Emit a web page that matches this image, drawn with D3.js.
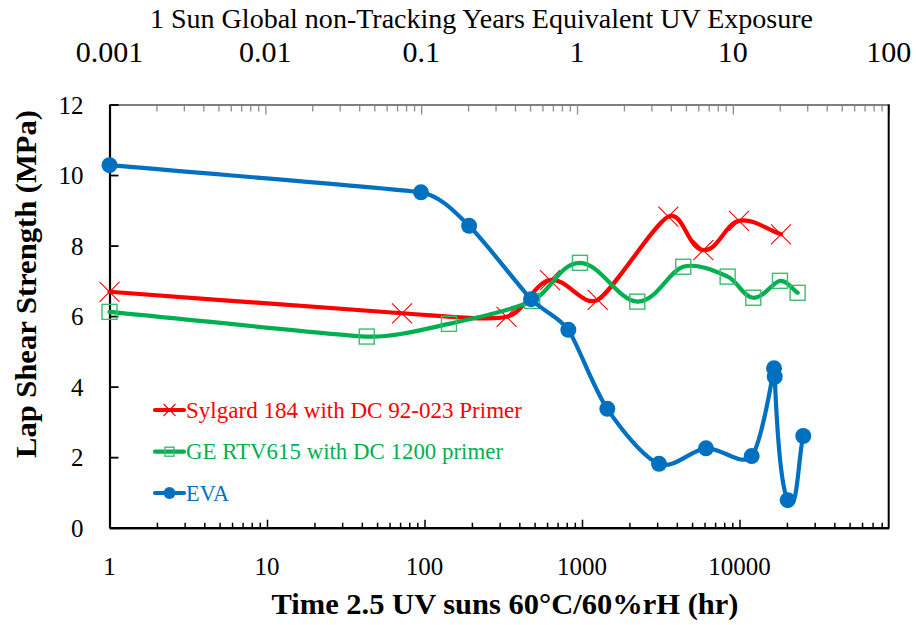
<!DOCTYPE html>
<html><head><meta charset="utf-8">
<script src="https://cdn.jsdelivr.net/npm/d3@7"></script>
<style>body{margin:0;background:#fff}svg{display:block}</style></head>
<body><svg id="c" width="916" height="625"></svg>
<script>
// ---- data ----
const sylgardHours = [1, 72, 332, 626, 1258, 3532, 5890, 9930, 18340];
const sylgardMPa   = [6.69, 6.08, 5.98, 7.02, 6.46, 8.82, 7.87, 8.70, 8.32];
const geHours = [1, 43, 143, 483, 971, 2244, 4395, 8410, 12240, 18070, 23390];
const geMPa   = [6.12, 5.42, 5.78, 6.43, 7.51, 6.41, 7.40, 7.12, 6.52, 7.00, 6.66];
const evaHours = [1, 95, 192, 475, 819, 1448, 3083, 6125, 11950, 16560, 16740, 20230, 25400];
const evaMPa   = [10.28, 9.51, 8.56, 6.48, 5.61, 3.37, 1.81, 2.25, 2.03, 4.52, 4.28, 0.78, 2.60];
const seriesNames = ["Sylgard 184 with DC 92-023 Primer", "GE RTV615 with DC 1200 primer", "EVA"];
const yTicks = [0, 2, 4, 6, 8, 10, 12];
const bottomTickLabels = [1, 10, 100, 1000, 10000];
const topTickLabels = [0.001, 0.01, 0.1, 1, 10, 100];
const bottomTitle = "Time 2.5 UV suns 60°C/60%rH (hr)";
const topTitle = "1 Sun Global non-Tracking Years Equivalent UV Exposure";
const yTitle = "Lap Shear Strength (MPa)";

// ---- layout ----
const L = 109.5, R = 888.7, T = 104.5, B = 527.7;
const FONT = "'Liberation Serif','Times New Roman',serif";
const svg = d3.select("#c");

const x = d3.scaleLog().domain([1, Math.pow(10, (R - L) / 157.5)]).range([L, R]);
const xTop = d3.scaleLog().domain([0.001, 100]).range([L, R]);
const y = d3.scaleLinear().domain([0, 12]).range([B, T]);

function minors(lo, hi) {
  const out = [];
  for (let d = lo; d < hi; d *= 10) for (let k = 2; k <= 9; k++) { const v = d * k; if (v < hi * 0.9999) out.push(v); }
  return out;
}

// top axis (gray)
const topG = svg.append("g").attr("transform", `translate(0,${T})`);
topG.call(d3.axisTop(xTop).tickValues(minors(0.001, 100)).tickSizeInner(-7).tickSizeOuter(0).tickFormat(""));
topG.call(g => g.append("g").call(d3.axisTop(xTop).tickValues(topTickLabels).tickSizeInner(-10).tickSizeOuter(0).tickFormat("")));
topG.selectAll("path").attr("stroke", "#7f7f7f").attr("stroke-width", 2.2);
topG.selectAll("line").attr("stroke", "#8c8c8c").attr("stroke-width", 1.3);

// top tick labels
svg.append("g").selectAll("text").data(topTickLabels).join("text")
  .attr("x", d => xTop(d)).attr("y", 62).attr("text-anchor", "middle")
  .attr("font-family", FONT).attr("font-size", 30).attr("fill", "#000")
  .text(d => d);
svg.append("text").attr("x", 481.5).attr("y", 28).attr("text-anchor", "middle")
  .attr("font-family", FONT).attr("font-size", 28).attr("fill", "#000")
  .attr("textLength", 663).attr("lengthAdjust", "spacingAndGlyphs").text(topTitle);

// right border
svg.append("line").attr("x1", R).attr("x2", R).attr("y1", T).attr("y2", B).attr("stroke", "#000").attr("stroke-width", 2);

// bottom axis
const botG = svg.append("g").attr("transform", `translate(0,${B})`);
botG.call(d3.axisBottom(x).tickValues(minors(1, x.domain()[1])).tickSizeInner(-5).tickSizeOuter(0).tickFormat(""));
botG.call(g => g.append("g").call(d3.axisBottom(x).tickValues(bottomTickLabels).tickSizeInner(-8).tickSizeOuter(0).tickFormat("")));
botG.selectAll("path").attr("stroke", "#000").attr("stroke-width", 2.2);
botG.selectAll("line").attr("stroke", "#000").attr("stroke-width", 1.5);
svg.append("g").selectAll("text").data(bottomTickLabels).join("text")
  .attr("x", d => x(d)).attr("y", 575).attr("text-anchor", "middle")
  .attr("font-family", FONT).attr("font-size", 25).attr("fill", "#000")
  .text(d => d);
svg.append("text").attr("x", 505).attr("y", 614).attr("text-anchor", "middle")
  .attr("font-family", FONT).attr("font-size", 30).attr("font-weight", "bold").attr("fill", "#000")
  .attr("textLength", 467).attr("lengthAdjust", "spacingAndGlyphs").text(bottomTitle);

// left axis
const leftG = svg.append("g").attr("transform", `translate(${L},0)`);
leftG.call(d3.axisLeft(y).tickValues(yTicks).tickSizeInner(-9).tickSizeOuter(0).tickPadding(26).tickFormat(d3.format("d")));
leftG.selectAll("path").attr("stroke", "#000").attr("stroke-width", 2.2);
leftG.selectAll("line").attr("stroke", "#000").attr("stroke-width", 1.8);
leftG.selectAll("text").attr("font-family", FONT).attr("font-size", 25).attr("fill", "#000").attr("dy", "0.34em");
svg.append("text").attr("transform", "translate(36,284) rotate(-90)").attr("text-anchor", "middle")
  .attr("font-family", FONT).attr("font-size", 30).attr("font-weight", "bold").attr("fill", "#000")
  .attr("textLength", 348).attr("lengthAdjust", "spacingAndGlyphs").text(yTitle);

// ---- series ----
const series = [
  { name: seriesNames[0], h: sylgardHours, v: sylgardMPa, color: "#FF0000", marker: "x" },
  { name: seriesNames[1], h: geHours, v: geMPa, color: "#00B050", marker: "square" },
  { name: seriesNames[2], h: evaHours, v: evaMPa, color: "#0070C0", marker: "circle" }
];

// Excel-like smoothed line: tangent along neighbours, arm limited by the shorter adjacent segment
function smoothPath(pts) {
  const n = pts.length, p = d3.path();
  const dist = (a, b) => Math.hypot(b[0] - a[0], b[1] - a[1]);
  const unit = (a, b) => { const d = dist(a, b) || 1; return [(b[0] - a[0]) / d, (b[1] - a[1]) / d]; };
  const tan = pts.map((q, i) => i === 0 ? unit(pts[0], pts[1]) : i === n - 1 ? unit(pts[n - 2], pts[n - 1]) : unit(pts[i - 1], pts[i + 1]));
  const arm = pts.map((q, i) => {
    const a = i > 0 ? dist(pts[i - 1], q) : Infinity, b = i < n - 1 ? dist(q, pts[i + 1]) : Infinity;
    return Math.min(a, b) / 3;
  });
  p.moveTo(pts[0][0], pts[0][1]);
  for (let i = 0; i < n - 1; i++) {
    const a = pts[i], b = pts[i + 1];
    p.bezierCurveTo(a[0] + tan[i][0] * arm[i], a[1] + tan[i][1] * arm[i],
                    b[0] - tan[i + 1][0] * arm[i + 1], b[1] - tan[i + 1][1] * arm[i + 1], b[0], b[1]);
  }
  return p.toString();
}

function drawMarker(g, kind, color, cx, cy, scale) {
  if (kind === "x") {
    const a = 10 * scale;
    g.append("path").attr("d", `M${cx - a},${cy - a}L${cx + a},${cy + a}M${cx - a},${cy + a}L${cx + a},${cy - a}`)
      .attr("stroke", color).attr("stroke-width", 1.1).attr("fill", "none");
  } else if (kind === "square") {
    const a = 7.5 * scale;
    g.append("rect").attr("x", cx - a).attr("y", cy - a).attr("width", 2 * a).attr("height", 2 * a)
      .attr("fill", "none").attr("stroke", "#3dbb6e").attr("stroke-width", 1.4);
  } else {
    g.append("circle").attr("cx", cx).attr("cy", cy).attr("r", 8 * scale).attr("fill", color);
  }
}

series.forEach(s => {
  const pts = s.h.map((h, i) => [x(h), y(s.v[i])]);
  const g = svg.append("g");
  g.append("path").attr("d", smoothPath(pts)).attr("fill", "none").attr("stroke", s.color)
    .attr("stroke-width", 4.2).attr("stroke-linejoin", "round").attr("stroke-linecap", "round");
  pts.forEach(p => drawMarker(g, s.marker, s.color, p[0], p[1], 1));
});

// ---- legend ----
const legY = [410, 451.7, 493];
const legendLens = [336, 317, 43];
series.forEach((s, i) => {
  const g = svg.append("g");
  g.append("line").attr("x1", 155).attr("x2", 184).attr("y1", legY[i]).attr("y2", legY[i])
    .attr("stroke", s.color).attr("stroke-width", 4.2).attr("stroke-linecap", "round");
  drawMarker(g, s.marker, s.color, 169.5, legY[i], s.marker === "circle" ? 0.75 : 0.6);
  g.append("text").attr("x", 186).attr("y", legY[i] + 7.5).attr("font-family", FONT).attr("font-size", 22.5)
    .attr("fill", s.color).attr("textLength", legendLens[i]).attr("lengthAdjust", "spacingAndGlyphs").text(s.name);
});
</script>
</body></html>
